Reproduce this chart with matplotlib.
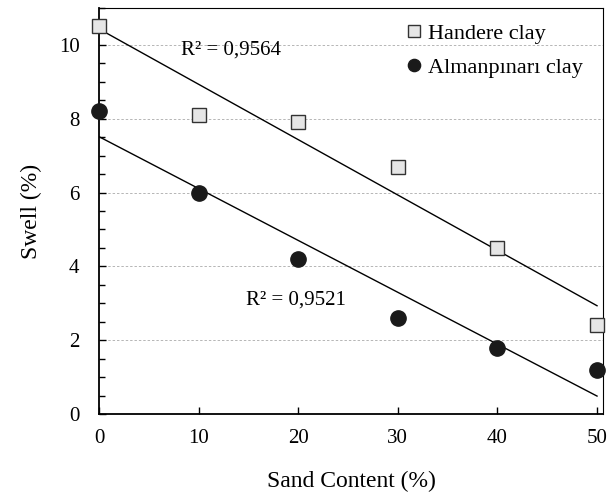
import numpy as np
import matplotlib
matplotlib.use("Agg")
from matplotlib import pyplot as plt
from matplotlib.ticker import MultipleLocator

plt.rcParams['font.family'] = ['Liberation Serif', 'DejaVu Serif']

sand = [0, 10, 20, 30, 40, 50]
handere = [10.5, 8.1, 7.9, 6.7, 4.5, 2.4]
almanpinari = [8.2, 6.0, 4.2, 2.6, 1.8, 1.2]


def fit(x, y):
    k, b = np.polyfit(x, y, 1)
    pred = k * np.array(x) + b
    ss_res = np.sum((np.array(y) - pred) ** 2)
    ss_tot = np.sum((np.array(y) - np.mean(y)) ** 2)
    return k, b, 1 - ss_res / ss_tot


fig = plt.figure(figsize=(6.09, 4.95), dpi=100)
ax = fig.add_axes([99 / 609, 1 - 414 / 495, 504 / 609, 406 / 495])

xs = np.array([0, 50])
for y in (handere, almanpinari):
    k, b, r2 = fit(sand, y)
    ax.plot(xs, k * xs + b, color='black', lw=1.0, zorder=2)

ax.plot(sand, handere, 's', ms=10.5, mfc='#e6e6e6', mec='#333333', mew=1.0,
        label='Handere clay', zorder=3, clip_on=False)
ax.plot(sand, almanpinari, 'o', ms=11, color='#1a1a1a',
        label='Almanpınarı clay', zorder=3, clip_on=False)

ax.text(8.2, 9.85, 'R² = 0,9564', fontsize=15, va='center', ha='left')
ax.text(14.8, 3.1, 'R² = 0,9521', fontsize=15, va='center', ha='left')

ax.set_xlim(0, 50.6)
ax.set_ylim(0, 11)
ax.set_xticks([0, 10, 20, 30, 40, 50])
ax.set_yticks([0, 2, 4, 6, 8, 10])
ax.yaxis.set_minor_locator(MultipleLocator(0.5))
ax.tick_params(axis='both', which='major', direction='in', length=5,
               labelsize=15, width=1.0)
ax.tick_params(axis='x', pad=11)
ax.tick_params(axis='y', pad=14)
ax.tick_params(axis='y', which='minor', direction='in', length=4, width=1.0)
ax.grid(axis='y', which='major', ls=(0, (2.5, 2)), color='#b5b5b5', lw=0.7)
ax.set_axisbelow(True)

for side in ('top', 'right'):
    ax.spines[side].set_linewidth(0.8)
for side in ('left', 'bottom'):
    ax.spines[side].set_linewidth(1.3)

ax.set_xlabel('Sand Content (%)', fontsize=17, labelpad=16)
ax.set_ylabel('Swell (%)', fontsize=17, labelpad=12)

ax.legend(loc='upper right', frameon=False, fontsize=16, handletextpad=0.1,
          handlelength=1.0, labelspacing=0.6, borderaxespad=0.3,
          markerscale=0.8, bbox_to_anchor=(0.99, 1.0))

fig.savefig('out.png', dpi=100)
